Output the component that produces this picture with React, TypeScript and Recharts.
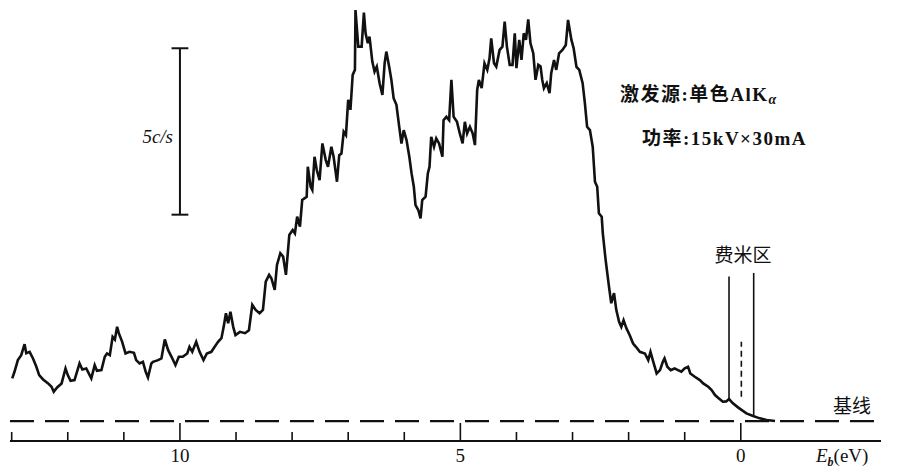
import { ComposedChart, Customized, Line, ReferenceLine, XAxis, YAxis } from 'recharts';

// binding energy (eV) and count rate (c/s)
const BINDING_ENERGY = [
  12.99, 12.95, 12.89, 12.83, 12.77, 12.74, 12.68, 12.62, 12.56, 12.51, 12.44, 12.35, 12.29, 12.25, 12.19, 12.11,
  12.04, 12.0, 11.95, 11.88, 11.79, 11.74, 11.67, 11.61, 11.58, 11.52, 11.48, 11.4, 11.34, 11.3, 11.25, 11.2,
  11.16, 11.12, 11.09, 11.03, 10.97, 10.9, 10.82, 10.78, 10.72, 10.66, 10.61, 10.57, 10.51, 10.48, 10.39, 10.33,
  10.27, 10.21, 10.15, 10.08, 10.02, 9.95, 9.87, 9.83, 9.78, 9.71, 9.65, 9.58, 9.52, 9.44, 9.38, 9.32,
  9.26, 9.22, 9.18, 9.14, 9.1, 9.05, 9.01, 8.93, 8.84, 8.77, 8.71, 8.65, 8.58, 8.52, 8.47, 8.41,
  8.37, 8.31, 8.27, 8.21, 8.16, 8.11, 8.05, 7.99, 7.95, 7.91, 7.86, 7.82, 7.74, 7.72, 7.67, 7.64,
  7.6, 7.56, 7.51, 7.46, 7.4, 7.36, 7.3, 7.26, 7.2, 7.16, 7.12, 7.08, 7.04, 7.0, 6.96, 6.92,
  6.88, 6.87, 6.82, 6.76, 6.72, 6.69, 6.65, 6.62, 6.57, 6.53, 6.49, 6.44, 6.39, 6.35, 6.32, 6.27,
  6.23, 6.19, 6.14, 6.09, 6.05, 6.01, 5.96, 5.91, 5.87, 5.83, 5.8, 5.75, 5.71, 5.68, 5.62, 5.58,
  5.55, 5.52, 5.47, 5.43, 5.38, 5.32, 5.3, 5.25, 5.2, 5.16, 5.12, 5.06, 5.01, 4.96, 4.92, 4.88,
  4.83, 4.78, 4.74, 4.7, 4.67, 4.62, 4.57, 4.52, 4.48, 4.45, 4.4, 4.36, 4.3, 4.25, 4.21, 4.17,
  4.12, 4.07, 4.03, 4.0, 3.95, 3.91, 3.87, 3.83, 3.79, 3.75, 3.7, 3.66, 3.61, 3.57, 3.54, 3.51,
  3.46, 3.41, 3.38, 3.33, 3.29, 3.24, 3.18, 3.12, 3.08, 3.02, 2.98, 2.93, 2.88, 2.82, 2.78, 2.74,
  2.69, 2.64, 2.6, 2.56, 2.53, 2.48, 2.46, 2.41, 2.35, 2.31, 2.26, 2.22, 2.17, 2.13, 2.09, 2.04,
  1.98, 1.92, 1.87, 1.8, 1.71, 1.65, 1.61, 1.56, 1.5, 1.44, 1.39, 1.36, 1.31, 1.25, 1.18, 1.12,
  1.06, 1.0, 0.94, 0.9, 0.82, 0.73, 0.67, 0.58, 0.52, 0.46, 0.39, 0.32, 0.26, 0.21, 0.14, 0.05,
  -0.1, -0.22, -0.34, -0.46, -0.61,
];

const COUNT_RATE = [
  1.28, 1.48, 1.83, 1.98, 2.31, 2.04, 2.08, 1.88, 1.63, 1.38, 1.25, 1.13, 1.03, 0.88, 1.01, 1.13,
  1.58, 1.38, 1.21, 1.23, 1.73, 1.55, 1.58, 1.38, 1.28, 1.68, 1.51, 1.53, 1.93, 2.03, 1.98, 2.53,
  2.45, 2.83, 2.64, 2.38, 2.03, 2.08, 2.05, 1.83, 1.73, 1.78, 1.48, 1.31, 1.73, 1.78, 1.83, 1.88,
  2.45, 2.13, 1.93, 1.68, 1.93, 1.93, 2.03, 2.23, 2.08, 2.38, 2.08, 1.83, 2.03, 2.08, 2.23, 2.38,
  2.49, 2.83, 3.24, 2.94, 3.28, 2.83, 2.58, 2.68, 2.64, 2.73, 3.49, 3.34, 3.24, 3.34, 4.19, 4.39,
  4.29, 3.94, 4.69, 5.04, 4.94, 4.39, 5.59, 5.74, 5.64, 6.14, 5.84, 6.64, 6.74, 7.64, 7.04, 6.94,
  7.94, 7.54, 7.24, 8.34, 7.84, 7.64, 8.24, 7.94, 7.19, 7.99, 8.04, 8.69, 8.59, 9.65, 9.35, 10.4,
  10.55, 12.35, 11.25, 11.25, 12.27, 11.65, 11.35, 11.55, 10.8, 10.5, 10.65, 10.15, 9.8, 10.75, 11.1, 10.65,
  10.25, 9.7, 9.5, 8.84, 8.34, 8.74, 8.44, 7.94, 7.44, 7.04, 6.49, 6.34, 6.09, 6.64, 6.74, 7.44,
  7.64, 8.54, 8.24, 8.49, 8.34, 7.94, 9.04, 9.14, 9.04, 10.25, 9.14, 8.99, 8.64, 8.34, 8.99, 8.64,
  8.84, 8.64, 8.29, 9.95, 10.25, 10.0, 10.75, 10.55, 10.9, 11.5, 10.75, 10.65, 11.15, 11.25, 12.0, 11.25,
  10.7, 10.7, 11.65, 10.6, 11.45, 10.85, 11.65, 11.45, 12.07, 11.35, 11.05, 10.25, 10.7, 10.65, 10.25, 10.0,
  10.15, 9.85, 10.45, 10.85, 10.55, 11.05, 11.15, 11.3, 12.05, 11.45, 11.2, 10.64, 10.55, 10.15, 9.55, 8.84,
  8.74, 8.24, 7.19, 7.04, 6.24, 6.14, 5.64, 4.84, 4.04, 3.54, 3.84, 3.34, 2.98, 2.83, 3.03, 2.79,
  2.58, 2.33, 2.23, 2.08, 2.03, 1.83, 2.08, 1.78, 1.43, 1.53, 1.78, 1.88, 1.63, 1.53, 1.58, 1.53,
  1.48, 1.58, 1.63, 1.43, 1.33, 1.23, 1.13, 1.03, 0.93, 0.78, 0.68, 0.58, 0.59, 0.66, 0.53, 0.41,
  0.23, 0.15, 0.08, 0.03, 0,
];

const ENERGY_TICKS = [13, 12, 11, 10, 9, 8, 7, 6, 5, 4, 3, 2, 1, 0];
const LABELED_TICKS = [10, 5, 0];

// 5 c/s scale bar, drawn at 10 eV
const SCALE_BAR = [6.2, 11.2];
// Fermi region markers: [energy, bottom, top]
const FERMI_SOLID = [
  [0.21, 0.63, 4.34],
  [-0.23, 0.18, 4.45],
];
const FERMI_DASHED = [-0.01, 0.73, 2.38];

const data = BINDING_ENERGY.map((eV, i) => ({ eV, rate: COUNT_RATE[i] }));

const INK = '#111';
const SERIF = "'Liberation Serif', 'DejaVu Serif', serif";
const CJK = "'Liberation Serif', 'Noto Sans CJK SC', sans-serif";

function EnergyTick({ x, y, payload }: any) {
  const major = LABELED_TICKS.includes(payload.value);
  return (
    <g>
      <line x1={x} x2={x} y1={y} y2={y - (major ? 18 : 9)} stroke={INK} strokeWidth={1.6} />
      {major && (
        <text x={x} y={y + 21} textAnchor="middle" style={{ fontFamily: SERIF, fontSize: 19 }} fill={INK}>
          {payload.value}
        </text>
      )}
    </g>
  );
}

function Annotations() {
  return (
    <g fill={INK}>
      <text x={173} y={143} textAnchor="end" style={{ fontFamily: SERIF, fontStyle: 'italic', fontSize: 19 }}>
        5c/s
      </text>
      <text x={620} y={101} style={{ fontFamily: CJK, fontSize: 19, fontWeight: 700, letterSpacing: 1.5 }}>
        激发源:单色AlK
        <tspan fontStyle="italic" fontSize={14} dy={3}>α</tspan>
      </text>
      <text x={642} y={145} style={{ fontFamily: CJK, fontSize: 19, fontWeight: 700, letterSpacing: 1.5 }}>
        功率:15kV×30mA
      </text>
      <text x={743} y={262} textAnchor="middle" style={{ fontFamily: CJK, fontSize: 19 }}>
        费米区
      </text>
      <text x={852} y={413} textAnchor="middle" style={{ fontFamily: CJK, fontSize: 19 }}>
        基线
      </text>
      <text x={816} y={462} style={{ fontFamily: SERIF, fontSize: 19 }}>
        <tspan fontStyle="italic">E</tspan>
        <tspan fontStyle="italic" fontWeight={700} fontSize={12} dy={4}>b</tspan>
        <tspan dy={-4}>(eV)</tspan>
      </text>
    </g>
  );
}

export default function App() {
  return (
    <div style={{ position: 'absolute', left: 0, top: 0, background: '#fff' }}>
      <ComposedChart width={899} height={469} data={data} margin={{ top: 5, right: 18, left: 10, bottom: 0 }}>
        <XAxis
          type="number"
          dataKey="eV"
          domain={[-2.5, 13.03]}
          reversed
          allowDataOverflow
          ticks={ENERGY_TICKS}
          interval={0}
          tick={<EnergyTick />}
          tickLine={false}
          tickSize={0}
          tickMargin={0}
          height={28}
          axisLine={{ stroke: INK, strokeWidth: 2.2 }}
        />
        <YAxis type="number" domain={[-0.6, 12.5]} allowDataOverflow hide />
        <ReferenceLine y={0} stroke={INK} strokeWidth={2.2} strokeDasharray="24 11" />
        <ReferenceLine
          segment={[{ x: 10, y: SCALE_BAR[0] }, { x: 10, y: SCALE_BAR[1] }]}
          stroke={INK}
          strokeWidth={2}
        />
        {SCALE_BAR.map((v) => (
          <ReferenceLine
            key={v}
            segment={[{ x: 10.15, y: v }, { x: 9.85, y: v }]}
            stroke={INK}
            strokeWidth={2}
          />
        ))}
        {FERMI_SOLID.map(([e, lo, hi]) => (
          <ReferenceLine
            key={e}
            segment={[{ x: e, y: lo }, { x: e, y: hi }]}
            stroke={INK}
            strokeWidth={1.6}
          />
        ))}
        <ReferenceLine
          segment={[{ x: FERMI_DASHED[0], y: FERMI_DASHED[1] }, { x: FERMI_DASHED[0], y: FERMI_DASHED[2] }]}
          stroke={INK}
          strokeWidth={1.6}
          strokeDasharray="6 4"
        />
        <Line
          type="linear"
          dataKey="rate"
          stroke={INK}
          strokeWidth={2.6}
          dot={false}
          isAnimationActive={false}
        />
        <Customized component={Annotations} />
      </ComposedChart>
    </div>
  );
}
